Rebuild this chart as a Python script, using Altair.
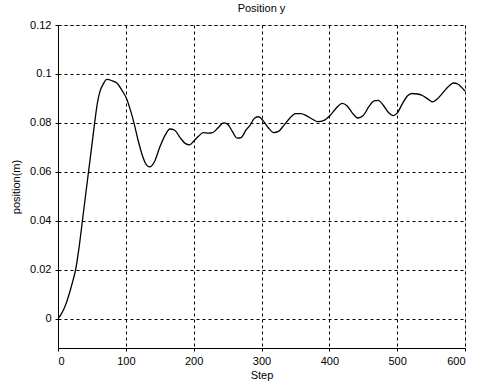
import altair as alt
import pandas as pd

steps = [0, 4, 8, 13, 18, 22, 26, 31, 36, 40, 45, 50, 54, 58, 62, 66, 72, 80, 87, 95, 101,
         107, 112, 118, 124, 130, 135, 142, 150, 158, 165, 172, 180, 188, 194, 200, 207,
         214, 222, 228, 236, 244, 250, 257, 264, 270, 277, 283, 290, 296, 302, 310, 318,
         325, 333, 342, 350, 358, 366, 375, 383, 392, 401, 410, 419, 426, 434, 442, 450,
         458, 466, 472, 480, 488, 494, 500, 508, 515, 522, 530, 537, 545, 552, 560, 568,
         576, 583, 590, 595, 600]
position = [0.0, 0.0015, 0.0035, 0.007, 0.0115, 0.0155, 0.020, 0.029, 0.040, 0.049, 0.060,
            0.071, 0.080, 0.088, 0.093, 0.0955, 0.0978, 0.0972, 0.0962, 0.093, 0.090, 0.085,
            0.080, 0.073, 0.067, 0.063, 0.062, 0.064, 0.070, 0.075, 0.0775, 0.077, 0.074,
            0.0715, 0.071, 0.0725, 0.0745, 0.076, 0.0758, 0.076, 0.078, 0.080, 0.0795,
            0.0765, 0.0738, 0.074, 0.077, 0.079, 0.082, 0.0825, 0.081, 0.078, 0.076, 0.0765,
            0.079, 0.082, 0.0838, 0.0838, 0.083, 0.0815, 0.0805, 0.081, 0.083, 0.086, 0.088,
            0.087, 0.084, 0.082, 0.083, 0.0865, 0.089, 0.0892, 0.087, 0.084, 0.083, 0.084,
            0.088, 0.091, 0.092, 0.0918, 0.0912, 0.0898, 0.0886, 0.090, 0.0925, 0.095,
            0.0963, 0.0958, 0.0945, 0.093]

x_ticks = [0, 100, 200, 300, 400, 500, 600]
y_ticks = [0, 0.02, 0.04, 0.06, 0.08, 0.1, 0.12]

df = pd.DataFrame({"step": steps, "pos": position})

font = "Liberation Sans"

chart = alt.Chart(df).mark_line(
    color="black", strokeWidth=1.3, interpolate="monotone"
).encode(
    x=alt.X("step:Q", title="Step",
            scale=alt.Scale(domain=[0, 600], nice=False),
            axis=alt.Axis(values=x_ticks, format="d", grid=True, gridColor="black",
                          gridDash=[3, 3], gridOpacity=1, gridWidth=1,
                          domainColor="black", tickColor="black", tickSize=3,
                          labelFont=font, labelFontSize=11, labelColor="black",
                          titleFont=font, titleFontSize=11, titleFontWeight="normal",
                          titleColor="black", labelPadding=4, titlePadding=3)),
    y=alt.Y("pos:Q", title="position(m)",
            scale=alt.Scale(domain=[-0.012, 0.12], nice=False, zero=False),
            axis=alt.Axis(values=y_ticks, format=".2~f", grid=True, gridColor="black",
                          gridDash=[3, 3], gridOpacity=1, gridWidth=1,
                          domainColor="black", tickColor="black", tickSize=3,
                          labelFont=font, labelFontSize=11, labelColor="black",
                          titleFont=font, titleFontSize=11, titleFontWeight="normal",
                          titleColor="black", labelPadding=4, titlePadding=8)),
).properties(
    width=407, height=323,
    title=alt.TitleParams("Position y", font=font, fontSize=11, fontWeight="normal",
                          color="black", offset=5),
    autosize=alt.AutoSizeParams(type="none"),
    padding={"left": 58, "top": 25, "right": 12, "bottom": 37},
).configure_view(stroke="black", strokeWidth=1).configure(background="white")

chart.save("out.html", embed_options={"renderer": "svg", "actions": False})
